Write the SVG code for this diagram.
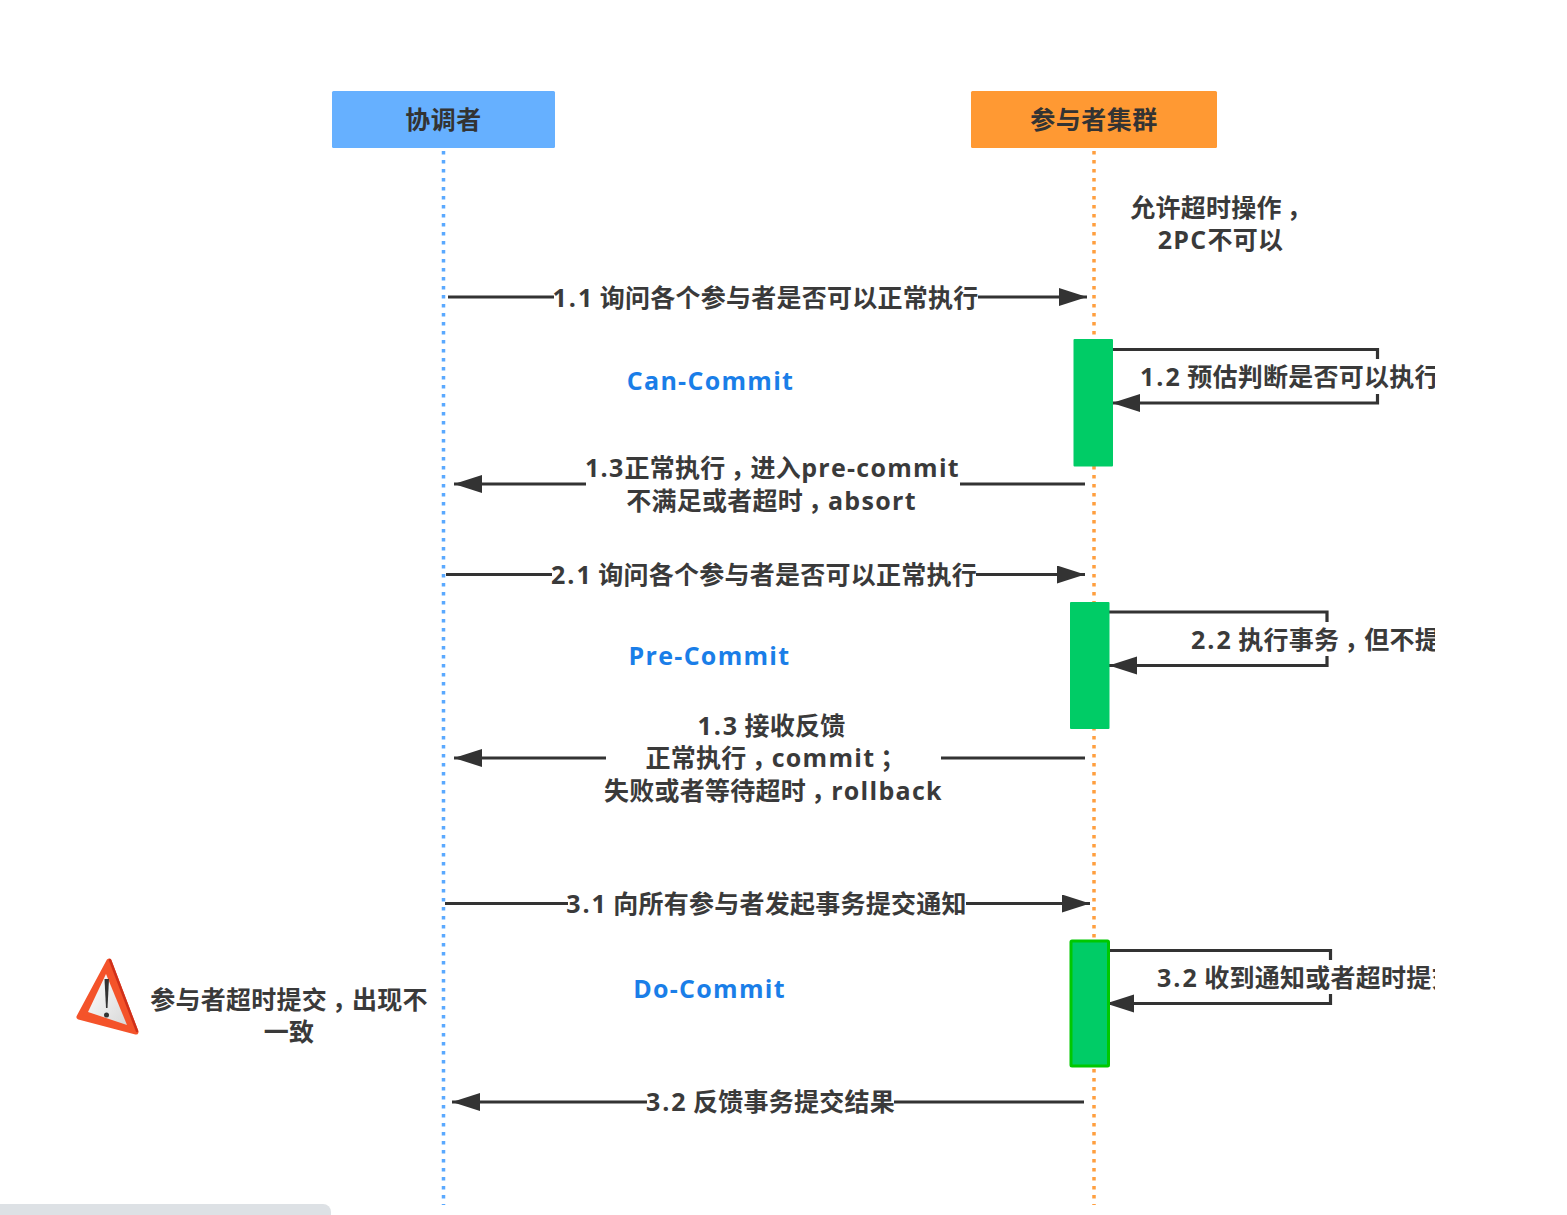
<svg xmlns="http://www.w3.org/2000/svg" width="1567" height="1215" viewBox="0 0 1567 1215">
<style>
text{font-family:"Open Sans","Noto Sans CJK SC",sans-serif;font-size:25px;font-weight:600;fill:#3a3a3a;text-anchor:middle;letter-spacing:.25px}
.t{font-weight:700;fill:#333;letter-spacing:.5px}
.l{font-weight:700;letter-spacing:1.300px}
.n{font-weight:700;letter-spacing:2px}
.c{letter-spacing:-5px}
.s{text-anchor:start}
.ph{fill:#1a7ee8;font-weight:700;letter-spacing:1.300px}
.m{fill:none;stroke:#333;stroke-width:3.200}
.act{fill:#00cc66}
.ll{fill:none;stroke-width:3.500;stroke-dasharray:3.500 5.500}
</style>
<defs>
<marker id="ah" markerUnits="userSpaceOnUse" markerWidth="30" markerHeight="20" refX="28" refY="9" orient="auto"><path d="M0 0L28 9L0 18Z" fill="#333"/></marker>
<linearGradient id="w" x1="0" y1="0" x2="1" y2="1"><stop offset="0" stop-color="#fff"/><stop offset="1" stop-color="#d8d8d8"/></linearGradient>
<clipPath id="clip"><rect x="1100" y="330" width="335" height="700"/></clipPath>
</defs>
<rect width="1567" height="1215" fill="#fff"/>
<g id="connectors">
<path class="ll" stroke="#5aa9ff" d="M443.500 151V1205"/>
<path class="ll" stroke="#ff9f3f" d="M1094 151V1205"/>
<path class="m" d="M448 297H554M978 297H1087" marker-end="url(#ah)"/>
<path class="m" d="M1085 484H960M586 484H454" marker-end="url(#ah)"/>
<path class="m" d="M446 574.500H552M976 574.500H1085" marker-end="url(#ah)"/>
<path class="m" d="M1085 758H941M606 758H454" marker-end="url(#ah)"/>
<path class="m" d="M445 903.500H568M966 903.500H1090" marker-end="url(#ah)"/>
<path class="m" d="M1084 1102H894M647 1102H452" marker-end="url(#ah)"/>
<path class="m" d="M1112 349.500H1377.500V359M1377.500 394V403H1112" marker-end="url(#ah)"/>
<path class="m" d="M1108 612H1327V622M1327 656V665.500H1109" marker-end="url(#ah)"/>
<path class="m" d="M1108 950.500H1330.500V960M1330.500 994V1003.500H1106" marker-end="url(#ah)"/>
</g>
<g id="coordinator"><rect x="332" y="91" width="223" height="57" rx="1.500" fill="#66b0ff"/><text class="t" x="443.500" y="129">协调者</text></g>
<g id="participants"><rect x="971" y="91" width="246" height="57" rx="1.500" fill="#ff9933"/><text class="t" x="1094" y="129">参与者集群</text></g>
<g id="note-timeout"><text x="1218.500" y="217">允许超时操作<tspan class="c" dx="5">，</tspan></text><text x="1220.500" y="249"><tspan class="l">2PC</tspan>不可以</text></g>
<g id="act1"><rect class="act" x="1073.500" y="339" width="39.500" height="127.500" rx="1"/></g>
<g id="act2"><rect class="act" x="1070" y="602" width="39.500" height="127" rx="1"/></g>
<g id="act3"><rect class="act" x="1071" y="941" width="37.500" height="125" rx="1" stroke="#00c800" stroke-width="3"/></g>
<g id="labels">
<text x="765.500" y="307"><tspan class="n">1.1 </tspan><tspan dx="-3">询问各个参与者是否可以正常执行</tspan></text>
<text x="772.500" y="477"><tspan class="l">1.3</tspan>正常执行<tspan class="c" dx="5">，</tspan>进入<tspan class="l">pre-commit</tspan></text>
<text x="771.500" y="510">不满足或者超时<tspan class="c" dx="5">，</tspan><tspan class="l">absort</tspan></text>
<text x="764" y="584"><tspan class="n">2.1 </tspan><tspan dx="-3">询问各个参与者是否可以正常执行</tspan></text>
<text x="771.500" y="735"><tspan class="n">1.3 </tspan><tspan dx="-3">接收反馈</tspan></text>
<text x="773" y="767">正常执行<tspan class="c" dx="5">，</tspan><tspan class="l">commit</tspan><tspan class="c" dx="5">；</tspan></text>
<text x="773.500" y="800">失败或者等待超时<tspan class="c" dx="5">，</tspan><tspan class="l">rollback</tspan></text>
<text x="766.500" y="913"><tspan class="n">3.1 </tspan><tspan dx="-3">向所有参与者发起事务提交通知</tspan></text>
<text x="770.500" y="1111"><tspan class="n">3.2 </tspan><tspan dx="-3">反馈事务提交结果</tspan></text>
<g clip-path="url(#clip)">
<text class="s" x="1140" y="386"><tspan class="n">1.2 </tspan><tspan dx="-3">预估判断是否可以执行</tspan></text>
<text class="s" x="1191" y="649"><tspan class="n">2.2 </tspan><tspan dx="-3">执行事务</tspan><tspan class="c" dx="5">，</tspan>但不提</text>
<text class="s" x="1157" y="987"><tspan class="n">3.2 </tspan><tspan dx="-3">收到通知或者超时提交</tspan></text>
</g>
</g>
<g id="phases">
<text class="ph" x="710.500" y="390">Can-Commit</text>
<text class="ph" x="709.500" y="665">Pre-Commit</text>
<text class="ph" x="709.500" y="998">Do-Commit</text>
</g>
<g id="warning">
<path d="M109 961L79 1017L136 1032Z" fill="#f4532a" stroke="#f4532a" stroke-width="5" stroke-linejoin="round"/>
<path d="M110 960L137 1031" stroke="#d0301a" stroke-width="2.500" fill="none" stroke-linecap="round"/>
<path d="M106 974L88 1012L127 1025Z" fill="url(#w)"/>
<path d="M104.500 979H109L107.500 1008H106Z" fill="#333"/>
<circle cx="106.500" cy="1015" r="2.500" fill="#333"/>
</g>
<g id="note-warning"><text x="289" y="1009">参与者超时提交<tspan class="c" dx="5">，</tspan>出现不</text><text x="289" y="1041">一致</text></g>
<path id="scrollbar" d="M0 1215V1204H323A8 8 0 0 1 331 1212V1215Z" fill="#dde1e5"/>
</svg>
